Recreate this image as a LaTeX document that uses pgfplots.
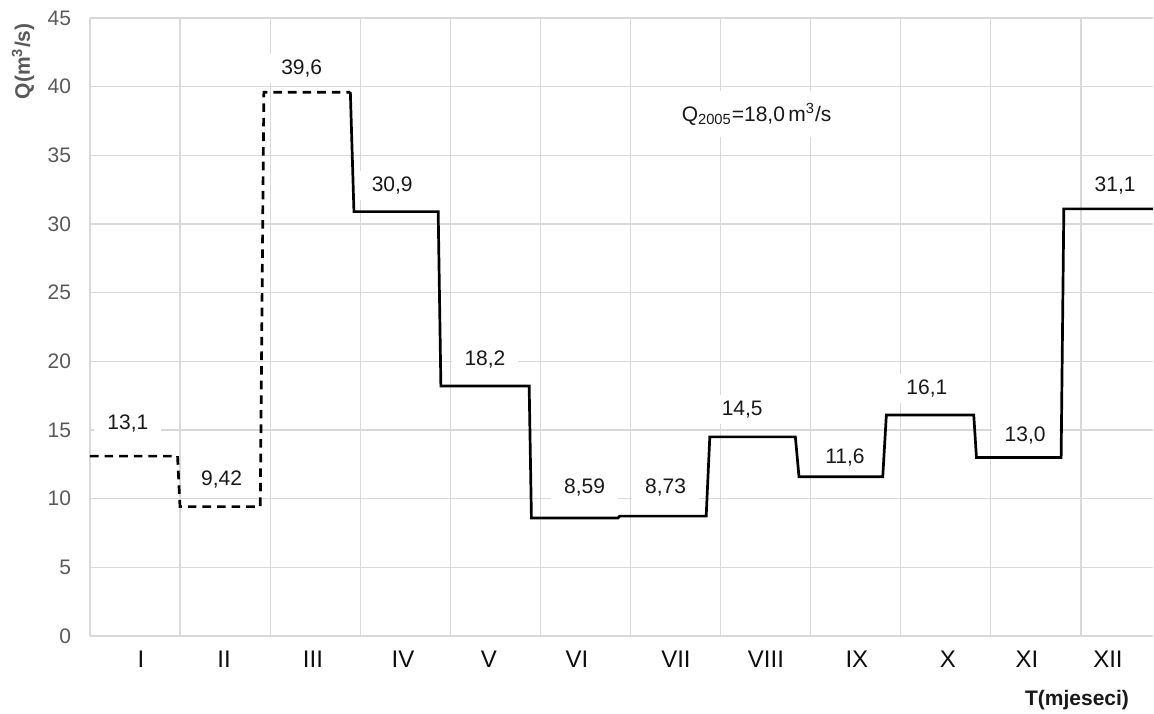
\documentclass[border=0pt]{standalone}
\usepackage{fontspec}
\setmainfont{Liberation Sans}
\usepackage{pgfplots}
\pgfplotsset{compat=1.18}
\definecolor{gridc}{RGB}{217,217,217}
\definecolor{tickc}{RGB}{89,89,89}
\begin{document}
\begin{tikzpicture}
\begin{axis}[name=ax,
  scale only axis, width=531.5pt, height=309pt,
  xmin=0, xmax=11.8, ymin=0, ymax=45,
  ytick={0,5,...,45},
  xtick={0.566,1.488,2.475,3.474,4.428,5.405,6.504,7.503,8.513,9.523,10.4,11.3},
  xticklabels={I,II,III,IV,V,VI,VII,VIII,IX,X,XI,XII},
  extra x ticks={1,2,3,4,5,6,7,8,9,10,11},
  extra x tick labels={},
  extra x tick style={grid=major},
  xmajorgrids=false, ymajorgrids=true,
  grid style={gridc, line width=0.6pt},
  major tick length=0pt,
  axis x line*=bottom, axis y line*=left,
  axis line style={gridc, line width=0.8pt, -},
  /pgf/number format/assume math mode=true,
  yticklabel style={font=\fontsize{10.5}{12}\selectfont, text=tickc, xshift=-6pt},
  xticklabel style={font=\fontsize{12}{14}\selectfont, text=black!95, yshift=-4pt},
  ylabel={\textbf{Q(m\textsuperscript{3}/s)}},
  ylabel style={font=\fontsize{10.5}{12}\selectfont, text=tickc, at={(axis description cs:-0.063,0.93)}, anchor=center, rotate=0},
  xlabel={\textbf{T(mjeseci)}},
  xlabel style={font=\fontsize{10.5}{12}\selectfont, text=black!90, at={(axis description cs:0.9285,-0.1036)}, anchor=center},
  clip=true,
]
\addplot[black, line width=1.35pt, dash pattern=on 4.3pt off 3pt] coordinates {
(0,13.1) (0.972,13.1) (0.999,9.42) (1.89,9.42) (1.93,39.6) (2.89,39.6)};
\addplot[black, line width=1.35pt] coordinates {
(2.89,39.6) (2.93,30.9) (3.865,30.9) (3.895,18.2) (4.875,18.2) (4.90,8.59) (5.86,8.59) (5.88,8.73) (6.84,8.73) (6.88,14.5) (7.83,14.5) (7.87,11.6) (8.80,11.6) (8.84,16.1) (9.81,16.1) (9.84,13.0) (10.78,13.0) (10.81,31.1) (12,31.1)};
\begin{scope}[every node/.style={fill=white, inner xsep=6.5pt, inner ysep=3pt, font=\fontsize{10.5}{12}\selectfont, text=black!90}]
\node at (axis cs:0.42,15.5) {13,1};
\node at (axis cs:1.46,11.4) {9,42};
\node at (axis cs:2.35,41.3) {39,6};
\node at (axis cs:3.355,32.8) {30,9};
\node at (axis cs:4.384,20.15) {18,2};
\node at (axis cs:5.49,10.8) {8,59};
\node at (axis cs:6.39,10.8) {8,73};
\node at (axis cs:7.24,16.5) {14,5};
\node at (axis cs:8.38,13.0) {11,6};
\node at (axis cs:9.29,18.0) {16,1};
\node at (axis cs:10.38,14.6) {13,0};
\node at (axis cs:11.38,32.8) {31,1};
\node[inner ysep=6pt] at (axis cs:7.40,38.0) {Q\textsubscript{2005}=18,0\,m\textsuperscript{3}/s};
\end{scope}
\end{axis}
\pgfresetboundingbox
\path[use as bounding box] ([shift={(-45pt,-38.5pt)}]ax.south west) rectangle ([shift={(0.5pt,9pt)}]ax.north east);
\end{tikzpicture}
\end{document}
